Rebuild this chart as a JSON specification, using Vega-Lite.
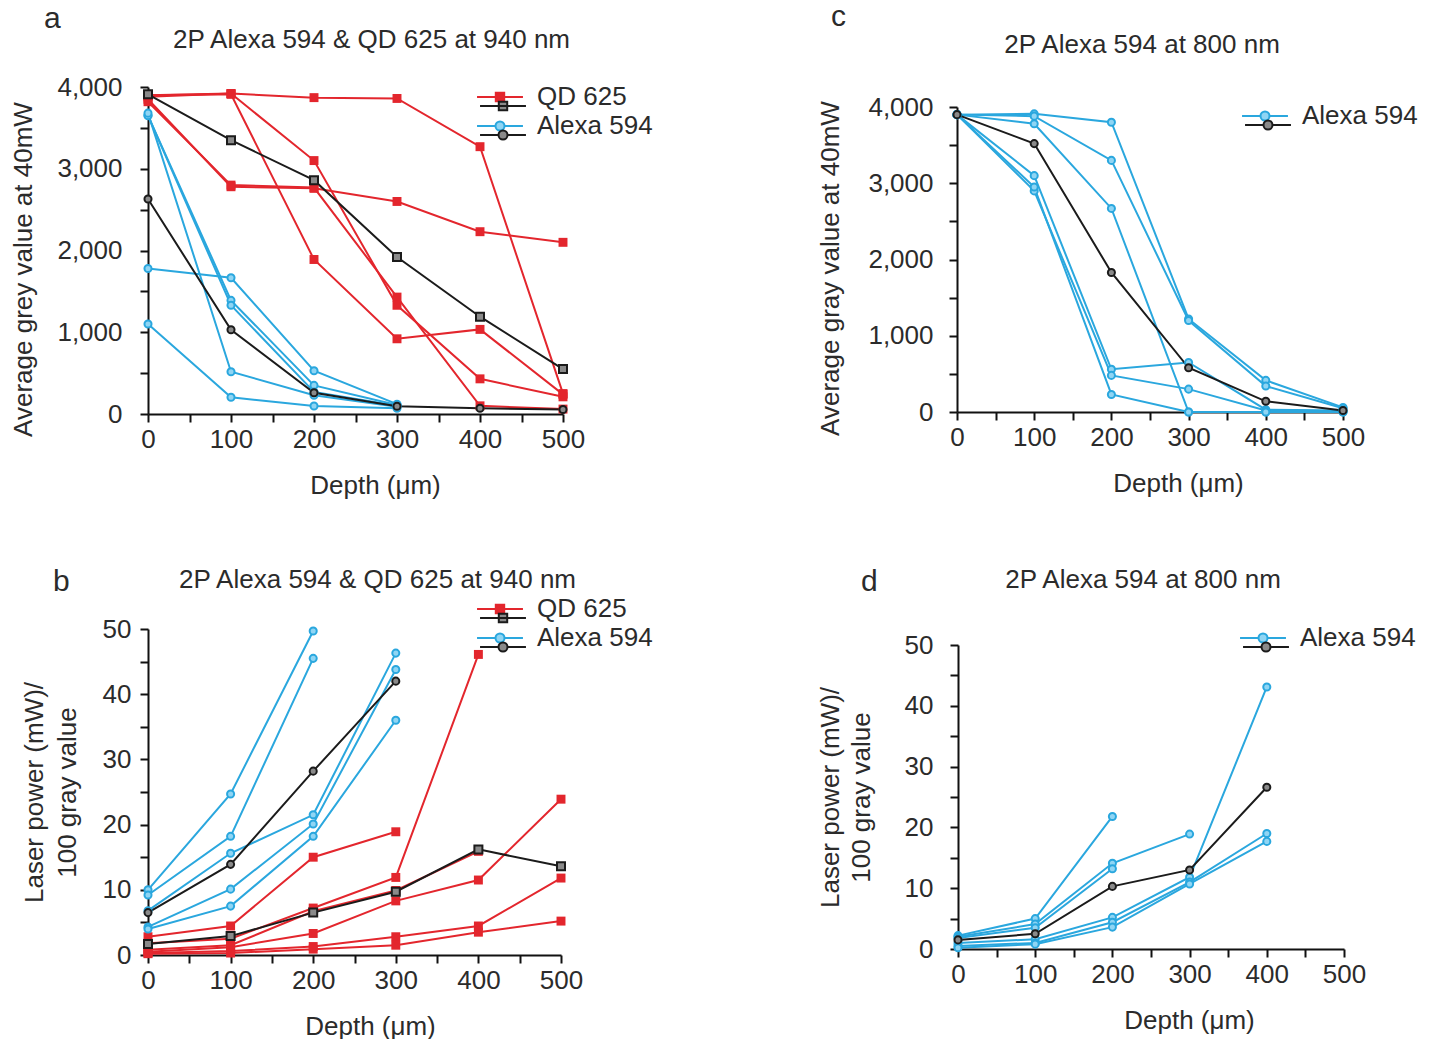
{
  "$schema": "https://vega.github.io/schema/vega-lite/v6.json",
  "padding": {"left": 10, "top": 2, "right": 0, "bottom": 0},
  "config": {
    "font": "Liberation Sans",
    "view": {"stroke": null},
    "axis": {"grid": false, "domainColor": "#111111", "domainWidth": 2, "tickColor": "#111111", "tickWidth": 2, "tickSize": 8, "labelFontSize": 26, "labelColor": "#2b2b2b", "titleFontSize": 26, "titleFontWeight": "normal", "titleColor": "#2b2b2b", "labelFlush": false, "labelOverlap": false},
    "axisX": {"labelPadding": 4, "titlePadding": 20},
    "axisY": {"labelPadding": 12, "titlePadding": 20},
    "title": {"fontSize": 26, "fontWeight": "normal", "color": "#2b2b2b"}
  },
  "datasets": {
    "panelA": [
      {"group": "QD 625", "series": "q1", "mean": 0, "depth": 0, "value": 3900},
      {"group": "QD 625", "series": "q1", "mean": 0, "depth": 100, "value": 3920},
      {"group": "QD 625", "series": "q1", "mean": 0, "depth": 200, "value": 3870},
      {"group": "QD 625", "series": "q1", "mean": 0, "depth": 300, "value": 3860},
      {"group": "QD 625", "series": "q1", "mean": 0, "depth": 400, "value": 3270},
      {"group": "QD 625", "series": "q1", "mean": 0, "depth": 500, "value": 250},
      {"group": "QD 625", "series": "q2", "mean": 0, "depth": 0, "value": 3850},
      {"group": "QD 625", "series": "q2", "mean": 0, "depth": 100, "value": 2780},
      {"group": "QD 625", "series": "q2", "mean": 0, "depth": 200, "value": 2760},
      {"group": "QD 625", "series": "q2", "mean": 0, "depth": 300, "value": 2600},
      {"group": "QD 625", "series": "q2", "mean": 0, "depth": 400, "value": 2230},
      {"group": "QD 625", "series": "q2", "mean": 0, "depth": 500, "value": 2100},
      {"group": "QD 625", "series": "q3", "mean": 0, "depth": 0, "value": 3820},
      {"group": "QD 625", "series": "q3", "mean": 0, "depth": 100, "value": 2800},
      {"group": "QD 625", "series": "q3", "mean": 0, "depth": 200, "value": 2770},
      {"group": "QD 625", "series": "q3", "mean": 0, "depth": 300, "value": 1430},
      {"group": "QD 625", "series": "q3", "mean": 0, "depth": 400, "value": 100},
      {"group": "QD 625", "series": "q3", "mean": 0, "depth": 500, "value": 60},
      {"group": "QD 625", "series": "q4", "mean": 0, "depth": 0, "value": 3880},
      {"group": "QD 625", "series": "q4", "mean": 0, "depth": 100, "value": 3920},
      {"group": "QD 625", "series": "q4", "mean": 0, "depth": 200, "value": 3100},
      {"group": "QD 625", "series": "q4", "mean": 0, "depth": 300, "value": 1330},
      {"group": "QD 625", "series": "q4", "mean": 0, "depth": 400, "value": 430},
      {"group": "QD 625", "series": "q4", "mean": 0, "depth": 500, "value": 210},
      {"group": "QD 625", "series": "q5", "mean": 0, "depth": 0, "value": 3900},
      {"group": "QD 625", "series": "q5", "mean": 0, "depth": 100, "value": 3910},
      {"group": "QD 625", "series": "q5", "mean": 0, "depth": 200, "value": 1890},
      {"group": "QD 625", "series": "q5", "mean": 0, "depth": 300, "value": 920},
      {"group": "QD 625", "series": "q5", "mean": 0, "depth": 400, "value": 1035},
      {"group": "QD 625", "series": "q5", "mean": 0, "depth": 500, "value": 240},
      {"group": "QD 625", "series": "qm", "mean": 1, "depth": 0, "value": 3910},
      {"group": "QD 625", "series": "qm", "mean": 1, "depth": 100, "value": 3350},
      {"group": "QD 625", "series": "qm", "mean": 1, "depth": 200, "value": 2860},
      {"group": "QD 625", "series": "qm", "mean": 1, "depth": 300, "value": 1920},
      {"group": "QD 625", "series": "qm", "mean": 1, "depth": 400, "value": 1190},
      {"group": "QD 625", "series": "qm", "mean": 1, "depth": 500, "value": 550},
      {"group": "Alexa 594", "series": "a1", "mean": 0, "depth": 0, "value": 3650},
      {"group": "Alexa 594", "series": "a1", "mean": 0, "depth": 100, "value": 1390},
      {"group": "Alexa 594", "series": "a1", "mean": 0, "depth": 200, "value": 350},
      {"group": "Alexa 594", "series": "a1", "mean": 0, "depth": 300, "value": 110},
      {"group": "Alexa 594", "series": "a2", "mean": 0, "depth": 0, "value": 3650},
      {"group": "Alexa 594", "series": "a2", "mean": 0, "depth": 100, "value": 1330},
      {"group": "Alexa 594", "series": "a2", "mean": 0, "depth": 200, "value": 270},
      {"group": "Alexa 594", "series": "a2", "mean": 0, "depth": 300, "value": 100},
      {"group": "Alexa 594", "series": "a3", "mean": 0, "depth": 0, "value": 3680},
      {"group": "Alexa 594", "series": "a3", "mean": 0, "depth": 100, "value": 517},
      {"group": "Alexa 594", "series": "a3", "mean": 0, "depth": 200, "value": 230},
      {"group": "Alexa 594", "series": "a3", "mean": 0, "depth": 300, "value": 90},
      {"group": "Alexa 594", "series": "a4", "mean": 0, "depth": 0, "value": 1780},
      {"group": "Alexa 594", "series": "a4", "mean": 0, "depth": 100, "value": 1666},
      {"group": "Alexa 594", "series": "a4", "mean": 0, "depth": 200, "value": 530},
      {"group": "Alexa 594", "series": "a4", "mean": 0, "depth": 300, "value": 120},
      {"group": "Alexa 594", "series": "a5", "mean": 0, "depth": 0, "value": 1100},
      {"group": "Alexa 594", "series": "a5", "mean": 0, "depth": 100, "value": 204},
      {"group": "Alexa 594", "series": "a5", "mean": 0, "depth": 200, "value": 98},
      {"group": "Alexa 594", "series": "a5", "mean": 0, "depth": 300, "value": 70},
      {"group": "Alexa 594", "series": "am", "mean": 1, "depth": 0, "value": 2630},
      {"group": "Alexa 594", "series": "am", "mean": 1, "depth": 100, "value": 1030},
      {"group": "Alexa 594", "series": "am", "mean": 1, "depth": 200, "value": 260},
      {"group": "Alexa 594", "series": "am", "mean": 1, "depth": 300, "value": 95},
      {"group": "Alexa 594", "series": "am", "mean": 1, "depth": 400, "value": 70},
      {"group": "Alexa 594", "series": "am", "mean": 1, "depth": 500, "value": 55}
    ],
    "panelB": [
      {"group": "QD 625", "series": "q1", "mean": 0, "depth": 0, "value": 2.8},
      {"group": "QD 625", "series": "q1", "mean": 0, "depth": 100, "value": 4.45},
      {"group": "QD 625", "series": "q1", "mean": 0, "depth": 200, "value": 15.0},
      {"group": "QD 625", "series": "q1", "mean": 0, "depth": 300, "value": 18.9},
      {"group": "QD 625", "series": "q2", "mean": 0, "depth": 0, "value": 1.8},
      {"group": "QD 625", "series": "q2", "mean": 0, "depth": 100, "value": 2.5},
      {"group": "QD 625", "series": "q2", "mean": 0, "depth": 200, "value": 7.2},
      {"group": "QD 625", "series": "q2", "mean": 0, "depth": 300, "value": 11.9},
      {"group": "QD 625", "series": "q2", "mean": 0, "depth": 400, "value": 46.1},
      {"group": "QD 625", "series": "q3", "mean": 0, "depth": 0, "value": 0.8},
      {"group": "QD 625", "series": "q3", "mean": 0, "depth": 100, "value": 1.5},
      {"group": "QD 625", "series": "q3", "mean": 0, "depth": 200, "value": 6.7},
      {"group": "QD 625", "series": "q3", "mean": 0, "depth": 300, "value": 9.9},
      {"group": "QD 625", "series": "q3", "mean": 0, "depth": 400, "value": 15.9},
      {"group": "QD 625", "series": "q4", "mean": 0, "depth": 0, "value": 0.5},
      {"group": "QD 625", "series": "q4", "mean": 0, "depth": 100, "value": 1.2},
      {"group": "QD 625", "series": "q4", "mean": 0, "depth": 200, "value": 3.3},
      {"group": "QD 625", "series": "q4", "mean": 0, "depth": 300, "value": 8.3},
      {"group": "QD 625", "series": "q4", "mean": 0, "depth": 400, "value": 11.5},
      {"group": "QD 625", "series": "q4", "mean": 0, "depth": 500, "value": 23.9},
      {"group": "QD 625", "series": "q5", "mean": 0, "depth": 0, "value": 0.3},
      {"group": "QD 625", "series": "q5", "mean": 0, "depth": 100, "value": 0.6},
      {"group": "QD 625", "series": "q5", "mean": 0, "depth": 200, "value": 1.3},
      {"group": "QD 625", "series": "q5", "mean": 0, "depth": 300, "value": 2.8},
      {"group": "QD 625", "series": "q5", "mean": 0, "depth": 400, "value": 4.45},
      {"group": "QD 625", "series": "q5", "mean": 0, "depth": 500, "value": 11.8},
      {"group": "QD 625", "series": "q6", "mean": 0, "depth": 0, "value": 0.2},
      {"group": "QD 625", "series": "q6", "mean": 0, "depth": 100, "value": 0.3},
      {"group": "QD 625", "series": "q6", "mean": 0, "depth": 200, "value": 0.9},
      {"group": "QD 625", "series": "q6", "mean": 0, "depth": 300, "value": 1.5},
      {"group": "QD 625", "series": "q6", "mean": 0, "depth": 400, "value": 3.5},
      {"group": "QD 625", "series": "q6", "mean": 0, "depth": 500, "value": 5.2},
      {"group": "QD 625", "series": "qm", "mean": 1, "depth": 0, "value": 1.7},
      {"group": "QD 625", "series": "qm", "mean": 1, "depth": 100, "value": 2.9},
      {"group": "QD 625", "series": "qm", "mean": 1, "depth": 200, "value": 6.5},
      {"group": "QD 625", "series": "qm", "mean": 1, "depth": 300, "value": 9.7},
      {"group": "QD 625", "series": "qm", "mean": 1, "depth": 400, "value": 16.2},
      {"group": "QD 625", "series": "qm", "mean": 1, "depth": 500, "value": 13.6},
      {"group": "Alexa 594", "series": "a1", "mean": 0, "depth": 0, "value": 10.0},
      {"group": "Alexa 594", "series": "a1", "mean": 0, "depth": 100, "value": 24.7},
      {"group": "Alexa 594", "series": "a1", "mean": 0, "depth": 200, "value": 49.7},
      {"group": "Alexa 594", "series": "a2", "mean": 0, "depth": 0, "value": 9.2},
      {"group": "Alexa 594", "series": "a2", "mean": 0, "depth": 100, "value": 18.2},
      {"group": "Alexa 594", "series": "a2", "mean": 0, "depth": 200, "value": 45.5},
      {"group": "Alexa 594", "series": "a3", "mean": 0, "depth": 0, "value": 6.8},
      {"group": "Alexa 594", "series": "a3", "mean": 0, "depth": 100, "value": 15.6},
      {"group": "Alexa 594", "series": "a3", "mean": 0, "depth": 200, "value": 21.5},
      {"group": "Alexa 594", "series": "a3", "mean": 0, "depth": 300, "value": 46.3},
      {"group": "Alexa 594", "series": "a4", "mean": 0, "depth": 0, "value": 4.3},
      {"group": "Alexa 594", "series": "a4", "mean": 0, "depth": 100, "value": 10.1},
      {"group": "Alexa 594", "series": "a4", "mean": 0, "depth": 200, "value": 20.1},
      {"group": "Alexa 594", "series": "a4", "mean": 0, "depth": 300, "value": 43.8},
      {"group": "Alexa 594", "series": "a5", "mean": 0, "depth": 0, "value": 4.0},
      {"group": "Alexa 594", "series": "a5", "mean": 0, "depth": 100, "value": 7.5},
      {"group": "Alexa 594", "series": "a5", "mean": 0, "depth": 200, "value": 18.2},
      {"group": "Alexa 594", "series": "a5", "mean": 0, "depth": 300, "value": 36.0},
      {"group": "Alexa 594", "series": "am", "mean": 1, "depth": 0, "value": 6.5},
      {"group": "Alexa 594", "series": "am", "mean": 1, "depth": 100, "value": 13.9},
      {"group": "Alexa 594", "series": "am", "mean": 1, "depth": 200, "value": 28.2},
      {"group": "Alexa 594", "series": "am", "mean": 1, "depth": 300, "value": 42.0}
    ],
    "panelC": [
      {"group": "Alexa 594", "series": "c1", "mean": 0, "depth": 0, "value": 3900},
      {"group": "Alexa 594", "series": "c1", "mean": 0, "depth": 100, "value": 3910},
      {"group": "Alexa 594", "series": "c1", "mean": 0, "depth": 200, "value": 3800},
      {"group": "Alexa 594", "series": "c1", "mean": 0, "depth": 300, "value": 1220},
      {"group": "Alexa 594", "series": "c1", "mean": 0, "depth": 400, "value": 415},
      {"group": "Alexa 594", "series": "c1", "mean": 0, "depth": 500, "value": 60},
      {"group": "Alexa 594", "series": "c2", "mean": 0, "depth": 0, "value": 3900},
      {"group": "Alexa 594", "series": "c2", "mean": 0, "depth": 100, "value": 3880},
      {"group": "Alexa 594", "series": "c2", "mean": 0, "depth": 200, "value": 3300},
      {"group": "Alexa 594", "series": "c2", "mean": 0, "depth": 300, "value": 1200},
      {"group": "Alexa 594", "series": "c2", "mean": 0, "depth": 400, "value": 340},
      {"group": "Alexa 594", "series": "c2", "mean": 0, "depth": 500, "value": 50},
      {"group": "Alexa 594", "series": "c3", "mean": 0, "depth": 0, "value": 3900},
      {"group": "Alexa 594", "series": "c3", "mean": 0, "depth": 100, "value": 3780},
      {"group": "Alexa 594", "series": "c3", "mean": 0, "depth": 200, "value": 2670},
      {"group": "Alexa 594", "series": "c3", "mean": 0, "depth": 300, "value": 0},
      {"group": "Alexa 594", "series": "c3", "mean": 0, "depth": 400, "value": 0},
      {"group": "Alexa 594", "series": "c3", "mean": 0, "depth": 500, "value": 0},
      {"group": "Alexa 594", "series": "c4", "mean": 0, "depth": 0, "value": 3900},
      {"group": "Alexa 594", "series": "c4", "mean": 0, "depth": 100, "value": 3100},
      {"group": "Alexa 594", "series": "c4", "mean": 0, "depth": 200, "value": 560},
      {"group": "Alexa 594", "series": "c4", "mean": 0, "depth": 300, "value": 650},
      {"group": "Alexa 594", "series": "c4", "mean": 0, "depth": 400, "value": 30},
      {"group": "Alexa 594", "series": "c4", "mean": 0, "depth": 500, "value": 20},
      {"group": "Alexa 594", "series": "c5", "mean": 0, "depth": 0, "value": 3900},
      {"group": "Alexa 594", "series": "c5", "mean": 0, "depth": 100, "value": 2900},
      {"group": "Alexa 594", "series": "c5", "mean": 0, "depth": 200, "value": 480},
      {"group": "Alexa 594", "series": "c5", "mean": 0, "depth": 300, "value": 300},
      {"group": "Alexa 594", "series": "c5", "mean": 0, "depth": 400, "value": 20},
      {"group": "Alexa 594", "series": "c5", "mean": 0, "depth": 500, "value": 10},
      {"group": "Alexa 594", "series": "c6", "mean": 0, "depth": 0, "value": 3900},
      {"group": "Alexa 594", "series": "c6", "mean": 0, "depth": 100, "value": 2950},
      {"group": "Alexa 594", "series": "c6", "mean": 0, "depth": 200, "value": 230},
      {"group": "Alexa 594", "series": "c6", "mean": 0, "depth": 300, "value": 0},
      {"group": "Alexa 594", "series": "c6", "mean": 0, "depth": 400, "value": 0},
      {"group": "Alexa 594", "series": "c6", "mean": 0, "depth": 500, "value": 0},
      {"group": "Alexa 594", "series": "cm", "mean": 1, "depth": 0, "value": 3900},
      {"group": "Alexa 594", "series": "cm", "mean": 1, "depth": 100, "value": 3520},
      {"group": "Alexa 594", "series": "cm", "mean": 1, "depth": 200, "value": 1830},
      {"group": "Alexa 594", "series": "cm", "mean": 1, "depth": 300, "value": 580},
      {"group": "Alexa 594", "series": "cm", "mean": 1, "depth": 400, "value": 140},
      {"group": "Alexa 594", "series": "cm", "mean": 1, "depth": 500, "value": 20}
    ],
    "panelD": [
      {"group": "Alexa 594", "series": "d1", "mean": 0, "depth": 0, "value": 2.2},
      {"group": "Alexa 594", "series": "d1", "mean": 0, "depth": 100, "value": 5.0},
      {"group": "Alexa 594", "series": "d1", "mean": 0, "depth": 200, "value": 21.8},
      {"group": "Alexa 594", "series": "d2", "mean": 0, "depth": 0, "value": 2.0},
      {"group": "Alexa 594", "series": "d2", "mean": 0, "depth": 100, "value": 4.1},
      {"group": "Alexa 594", "series": "d2", "mean": 0, "depth": 200, "value": 14.1},
      {"group": "Alexa 594", "series": "d2", "mean": 0, "depth": 300, "value": 18.9},
      {"group": "Alexa 594", "series": "d3", "mean": 0, "depth": 0, "value": 1.8},
      {"group": "Alexa 594", "series": "d3", "mean": 0, "depth": 100, "value": 3.5},
      {"group": "Alexa 594", "series": "d3", "mean": 0, "depth": 200, "value": 13.2},
      {"group": "Alexa 594", "series": "d4", "mean": 0, "depth": 0, "value": 1.0},
      {"group": "Alexa 594", "series": "d4", "mean": 0, "depth": 100, "value": 1.6},
      {"group": "Alexa 594", "series": "d4", "mean": 0, "depth": 200, "value": 5.2},
      {"group": "Alexa 594", "series": "d4", "mean": 0, "depth": 300, "value": 11.8},
      {"group": "Alexa 594", "series": "d4", "mean": 0, "depth": 400, "value": 43.1},
      {"group": "Alexa 594", "series": "d5", "mean": 0, "depth": 0, "value": 0.5},
      {"group": "Alexa 594", "series": "d5", "mean": 0, "depth": 100, "value": 1.0},
      {"group": "Alexa 594", "series": "d5", "mean": 0, "depth": 200, "value": 4.4},
      {"group": "Alexa 594", "series": "d5", "mean": 0, "depth": 300, "value": 11.0},
      {"group": "Alexa 594", "series": "d5", "mean": 0, "depth": 400, "value": 19.0},
      {"group": "Alexa 594", "series": "d6", "mean": 0, "depth": 0, "value": 0.2},
      {"group": "Alexa 594", "series": "d6", "mean": 0, "depth": 100, "value": 0.8},
      {"group": "Alexa 594", "series": "d6", "mean": 0, "depth": 200, "value": 3.6},
      {"group": "Alexa 594", "series": "d6", "mean": 0, "depth": 300, "value": 10.7},
      {"group": "Alexa 594", "series": "d6", "mean": 0, "depth": 400, "value": 17.7},
      {"group": "Alexa 594", "series": "dm", "mean": 1, "depth": 0, "value": 1.5},
      {"group": "Alexa 594", "series": "dm", "mean": 1, "depth": 100, "value": 2.5},
      {"group": "Alexa 594", "series": "dm", "mean": 1, "depth": 200, "value": 10.3},
      {"group": "Alexa 594", "series": "dm", "mean": 1, "depth": 300, "value": 13.0},
      {"group": "Alexa 594", "series": "dm", "mean": 1, "depth": 400, "value": 26.6}
    ]
  },
  "columns": 2,
  "align": "none",
  "spacing": {"row": 69, "column": 164},
  "concat": [
    {
      "title": {"text": "a", "anchor": "start", "fontSize": 30, "dx": 33, "offset": -7},
      "vconcat": [
        {
          "width": 415, "height": 327,
          "title": {"text": "2P Alexa 594 & QD 625 at 940 nm", "dx": 16, "offset": 21},
          "data": {"name": "panelA"},
          "encoding": {
            "x": {"field": "depth", "type": "quantitative", "scale": {"domain": [0, 500], "nice": false}, "axis": {"title": "Depth (μm)", "values": [0, 50, 100, 150, 200, 250, 300, 350, 400, 450, 500], "labelExpr": "datum.value % 100 === 0 ? datum.label : ''", "titleX": 227}},
            "y": {"field": "value", "type": "quantitative", "scale": {"domain": [0, 4000], "nice": false}, "axis": {"title": "Average grey value at 40mW", "values": [0, 500, 1000, 1500, 2000, 2500, 3000, 3500, 4000], "labelExpr": "datum.value % 1000 === 0 ? format(datum.value, ',') : ''", "titleY": 182, "labelPadding": 18, "titlePadding": 20}}
          },
          "resolve": {"scale": {"shape": "independent", "fill": "independent", "stroke": "independent"}, "legend": {"shape": "independent", "fill": "independent", "stroke": "independent"}},
          "layer": [
            {"transform": [{"filter": "datum.mean === 0"}], "mark": {"type": "line", "strokeWidth": 2}, "encoding": {"color": {"field": "group", "type": "nominal", "scale": {"domain": ["QD 625", "Alexa 594"], "range": ["#e3262d", "#2aa7de"]}, "legend": null}, "detail": {"field": "series"}}},
            {"transform": [{"filter": "datum.mean === 1"}], "mark": {"type": "line", "strokeWidth": 2, "color": "#1b1b1b"}, "encoding": {"detail": {"field": "series"}}},
            {"transform": [{"filter": "datum.mean === 0 && datum.group === 'QD 625'"}], "mark": {"type": "point", "shape": "square", "filled": true, "size": 80, "color": "#e3262d", "opacity": 1}},
            {"transform": [{"filter": "datum.mean === 0 && datum.group === 'Alexa 594'"}], "mark": {"type": "point", "shape": "circle", "filled": true, "size": 50, "fill": "#8fd5f4", "stroke": "#2aa7de", "strokeWidth": 2, "opacity": 1}},
            {"transform": [{"filter": "datum.mean === 1 && datum.group === 'QD 625'"}], "mark": {"type": "point", "shape": "square", "filled": true, "size": 64, "fill": "#8a8a8a", "stroke": "#1b1b1b", "strokeWidth": 2, "opacity": 1}},
            {"transform": [{"filter": "datum.mean === 1 && datum.group === 'Alexa 594'"}], "mark": {"type": "point", "shape": "circle", "filled": true, "size": 50, "fill": "#8a8a8a", "stroke": "#1b1b1b", "strokeWidth": 2, "opacity": 1}},
            {"transform": [{"filter": "false"}], "mark": {"type": "point", "filled": true, "opacity": 1, "strokeWidth": 2, "size": 900},
              "encoding": {
                "shape": {"field": "group", "type": "nominal", "scale": {"domain": ["QD 625", "Alexa 594"], "range": ["M-1.53,0H1.53M-0.28,-0.28H0.28V0.28H-0.28Z", "M-1.53,0H-0.3M0.3,0H1.53M-0.3,0A0.3,0.3,0,1,1,0.3,0A0.3,0.3,0,1,1,-0.3,0Z"]}, "legend": {"orient": "none", "legendX": 336, "legendY": -6, "title": null, "symbolSize": 900, "symbolStrokeWidth": 2, "labelOffset": 21, "padding": 0, "rowPadding": 0, "labelFontSize": 26, "labelColor": "#2b2b2b", "symbolOpacity": 1}},
                "fill": {"field": "group", "type": "nominal", "scale": {"domain": ["QD 625", "Alexa 594"], "range": ["#e3262d", "#8fd5f4"]}, "legend": {"orient": "none", "legendX": 336, "legendY": -6, "title": null, "symbolSize": 900, "symbolStrokeWidth": 2, "labelOffset": 21, "padding": 0, "rowPadding": 0, "labelFontSize": 26, "labelColor": "#2b2b2b", "symbolOpacity": 1}},
                "stroke": {"field": "group", "type": "nominal", "scale": {"domain": ["QD 625", "Alexa 594"], "range": ["#e3262d", "#2aa7de"]}, "legend": {"orient": "none", "legendX": 336, "legendY": -6, "title": null, "symbolSize": 900, "symbolStrokeWidth": 2, "labelOffset": 21, "padding": 0, "rowPadding": 0, "labelFontSize": 26, "labelColor": "#2b2b2b", "symbolOpacity": 1}}
              }},
            {"transform": [{"filter": "false"}], "mark": {"type": "point", "filled": true, "opacity": 1, "strokeWidth": 2, "size": 900},
              "encoding": {
                "shape": {"field": "group", "type": "nominal", "scale": {"domain": ["QD 625", "Alexa 594"], "range": ["M-1.53,0H1.53M-0.28,-0.28H0.28V0.28H-0.28Z", "M-1.53,0H-0.3M0.3,0H1.53M-0.3,0A0.3,0.3,0,1,1,0.3,0A0.3,0.3,0,1,1,-0.3,0Z"]}, "legend": {"orient": "none", "legendX": 339, "legendY": 3, "title": null, "symbolSize": 900, "symbolStrokeWidth": 2, "labelExpr": "''", "padding": 0, "rowPadding": 0, "labelFontSize": 26, "symbolOpacity": 1}},
                "fill": {"field": "group", "type": "nominal", "scale": {"domain": ["QD 625", "Alexa 594"], "range": ["#8a8a8a", "#8a8a8a"]}, "legend": {"orient": "none", "legendX": 339, "legendY": 3, "title": null, "symbolSize": 900, "symbolStrokeWidth": 2, "labelExpr": "''", "padding": 0, "rowPadding": 0, "labelFontSize": 26, "symbolOpacity": 1}},
                "stroke": {"field": "group", "type": "nominal", "scale": {"domain": ["QD 625", "Alexa 594"], "range": ["#1b1b1b", "#1b1b1b"]}, "legend": {"orient": "none", "legendX": 339, "legendY": 3, "title": null, "symbolSize": 900, "symbolStrokeWidth": 2, "labelExpr": "''", "padding": 0, "rowPadding": 0, "labelFontSize": 26, "symbolOpacity": 1}}
              }}
          ]
        }
      ]
    },
    {
      "title": {"text": "c", "anchor": "start", "fontSize": 30, "dx": 13, "offset": 0},
      "vconcat": [
        {
          "width": 386, "height": 325,
          "title": {"text": "2P Alexa 594 at 800 nm", "dx": -8, "offset": 29},
          "data": {"name": "panelC"},
          "encoding": {
            "x": {"field": "depth", "type": "quantitative", "scale": {"domain": [0, 500], "nice": false}, "axis": {"title": "Depth (μm)", "values": [0, 50, 100, 150, 200, 250, 300, 350, 400, 450, 500], "labelExpr": "datum.value % 100 === 0 ? datum.label : ''", "titleX": 221}},
            "y": {"field": "value", "type": "quantitative", "scale": {"domain": [0, 4000], "nice": false, "range": [325, 20]}, "axis": {"title": "Average gray value at 40mW", "values": [0, 500, 1000, 1500, 2000, 2500, 3000, 3500, 4000], "labelExpr": "datum.value % 1000 === 0 ? format(datum.value, ',') : ''", "titleY": 181, "labelPadding": 16, "titlePadding": 24}}
          },
          "resolve": {"scale": {"shape": "independent", "fill": "independent", "stroke": "independent"}, "legend": {"shape": "independent", "fill": "independent", "stroke": "independent"}},
          "layer": [
            {"transform": [{"filter": "datum.mean === 0"}], "mark": {"type": "line", "strokeWidth": 2, "color": "#2aa7de"}, "encoding": {"detail": {"field": "series"}}},
            {"transform": [{"filter": "datum.mean === 1"}], "mark": {"type": "line", "strokeWidth": 2, "color": "#1b1b1b"}, "encoding": {"detail": {"field": "series"}}},
            {"transform": [{"filter": "datum.mean === 0"}], "mark": {"type": "point", "shape": "circle", "filled": true, "size": 50, "fill": "#8fd5f4", "stroke": "#2aa7de", "strokeWidth": 2, "opacity": 1}},
            {"transform": [{"filter": "datum.mean === 1"}], "mark": {"type": "point", "shape": "circle", "filled": true, "size": 50, "fill": "#8a8a8a", "stroke": "#1b1b1b", "strokeWidth": 2, "opacity": 1}},
            {"transform": [{"filter": "false"}], "mark": {"type": "point", "filled": true, "opacity": 1, "strokeWidth": 2, "size": 900},
              "encoding": {
                "shape": {"field": "group", "type": "nominal", "scale": {"domain": ["Alexa 594"], "range": ["M-1.53,0H-0.3M0.3,0H1.53M-0.3,0A0.3,0.3,0,1,1,0.3,0A0.3,0.3,0,1,1,-0.3,0Z"]}, "legend": {"orient": "none", "legendX": 292, "legendY": 13, "title": null, "symbolSize": 900, "symbolStrokeWidth": 2, "labelOffset": 21, "padding": 0, "rowPadding": 0, "labelFontSize": 26, "labelColor": "#2b2b2b", "symbolOpacity": 1}},
                "fill": {"field": "group", "type": "nominal", "scale": {"domain": ["Alexa 594"], "range": ["#8fd5f4"]}, "legend": {"orient": "none", "legendX": 292, "legendY": 13, "title": null, "symbolSize": 900, "symbolStrokeWidth": 2, "labelOffset": 21, "padding": 0, "rowPadding": 0, "labelFontSize": 26, "labelColor": "#2b2b2b", "symbolOpacity": 1}},
                "stroke": {"field": "group", "type": "nominal", "scale": {"domain": ["Alexa 594"], "range": ["#2aa7de"]}, "legend": {"orient": "none", "legendX": 292, "legendY": 13, "title": null, "symbolSize": 900, "symbolStrokeWidth": 2, "labelOffset": 21, "padding": 0, "rowPadding": 0, "labelFontSize": 26, "labelColor": "#2b2b2b", "symbolOpacity": 1}}
              }},
            {"transform": [{"filter": "false"}], "mark": {"type": "point", "filled": true, "opacity": 1, "strokeWidth": 2, "size": 900},
              "encoding": {
                "shape": {"field": "group", "type": "nominal", "scale": {"domain": ["Alexa 594"], "range": ["M-1.53,0H-0.3M0.3,0H1.53M-0.3,0A0.3,0.3,0,1,1,0.3,0A0.3,0.3,0,1,1,-0.3,0Z"]}, "legend": {"orient": "none", "legendX": 295, "legendY": 22, "title": null, "symbolSize": 900, "symbolStrokeWidth": 2, "labelExpr": "''", "padding": 0, "rowPadding": 0, "labelFontSize": 26, "symbolOpacity": 1}},
                "fill": {"field": "group", "type": "nominal", "scale": {"domain": ["Alexa 594"], "range": ["#8a8a8a"]}, "legend": {"orient": "none", "legendX": 295, "legendY": 22, "title": null, "symbolSize": 900, "symbolStrokeWidth": 2, "labelExpr": "''", "padding": 0, "rowPadding": 0, "labelFontSize": 26, "symbolOpacity": 1}},
                "stroke": {"field": "group", "type": "nominal", "scale": {"domain": ["Alexa 594"], "range": ["#1b1b1b"]}, "legend": {"orient": "none", "legendX": 295, "legendY": 22, "title": null, "symbolSize": 900, "symbolStrokeWidth": 2, "labelExpr": "''", "padding": 0, "rowPadding": 0, "labelFontSize": 26, "symbolOpacity": 1}}
              }}
          ]
        }
      ]
    },
    {
      "title": {"text": "b", "anchor": "start", "fontSize": 30, "dx": 32, "offset": -30},
      "vconcat": [
        {
          "width": 413, "height": 326,
          "title": {"text": "2P Alexa 594 & QD 625 at 940 nm", "dx": 23, "offset": 0},
          "data": {"name": "panelB"},
          "encoding": {
            "x": {"field": "depth", "type": "quantitative", "scale": {"domain": [0, 500], "nice": false}, "axis": {"title": "Depth (μm)", "values": [0, 50, 100, 150, 200, 250, 300, 350, 400, 450, 500], "labelExpr": "datum.value % 100 === 0 ? datum.label : ''", "titleX": 222}},
            "y": {"field": "value", "type": "quantitative", "scale": {"domain": [0, 50], "nice": false}, "axis": {"title": ["Laser power (mW)/", "100 gray value"], "titleLineHeight": 33, "values": [0, 5, 10, 15, 20, 25, 30, 35, 40, 45, 50], "labelExpr": "datum.value % 10 === 0 ? datum.label : ''", "labelPadding": 9, "titlePadding": 22}}
          },
          "resolve": {"scale": {"shape": "independent", "fill": "independent", "stroke": "independent"}, "legend": {"shape": "independent", "fill": "independent", "stroke": "independent"}},
          "layer": [
            {"transform": [{"filter": "datum.mean === 0"}], "mark": {"type": "line", "strokeWidth": 2}, "encoding": {"color": {"field": "group", "type": "nominal", "scale": {"domain": ["QD 625", "Alexa 594"], "range": ["#e3262d", "#2aa7de"]}, "legend": null}, "detail": {"field": "series"}}},
            {"transform": [{"filter": "datum.mean === 1"}], "mark": {"type": "line", "strokeWidth": 2, "color": "#1b1b1b"}, "encoding": {"detail": {"field": "series"}}},
            {"transform": [{"filter": "datum.mean === 0 && datum.group === 'QD 625'"}], "mark": {"type": "point", "shape": "square", "filled": true, "size": 80, "color": "#e3262d", "opacity": 1}},
            {"transform": [{"filter": "datum.mean === 0 && datum.group === 'Alexa 594'"}], "mark": {"type": "point", "shape": "circle", "filled": true, "size": 50, "fill": "#8fd5f4", "stroke": "#2aa7de", "strokeWidth": 2, "opacity": 1}},
            {"transform": [{"filter": "datum.mean === 1 && datum.group === 'QD 625'"}], "mark": {"type": "point", "shape": "square", "filled": true, "size": 64, "fill": "#8a8a8a", "stroke": "#1b1b1b", "strokeWidth": 2, "opacity": 1}},
            {"transform": [{"filter": "datum.mean === 1 && datum.group === 'Alexa 594'"}], "mark": {"type": "point", "shape": "circle", "filled": true, "size": 50, "fill": "#8a8a8a", "stroke": "#1b1b1b", "strokeWidth": 2, "opacity": 1}},
            {"transform": [{"filter": "false"}], "mark": {"type": "point", "filled": true, "opacity": 1, "strokeWidth": 2, "size": 900},
              "encoding": {
                "shape": {"field": "group", "type": "nominal", "scale": {"domain": ["QD 625", "Alexa 594"], "range": ["M-1.53,0H1.53M-0.28,-0.28H0.28V0.28H-0.28Z", "M-1.53,0H-0.3M0.3,0H1.53M-0.3,0A0.3,0.3,0,1,1,0.3,0A0.3,0.3,0,1,1,-0.3,0Z"]}, "legend": {"orient": "none", "legendX": 336, "legendY": -36, "title": null, "symbolSize": 900, "symbolStrokeWidth": 2, "labelOffset": 21, "padding": 0, "rowPadding": 0, "labelFontSize": 26, "labelColor": "#2b2b2b", "symbolOpacity": 1}},
                "fill": {"field": "group", "type": "nominal", "scale": {"domain": ["QD 625", "Alexa 594"], "range": ["#e3262d", "#8fd5f4"]}, "legend": {"orient": "none", "legendX": 336, "legendY": -36, "title": null, "symbolSize": 900, "symbolStrokeWidth": 2, "labelOffset": 21, "padding": 0, "rowPadding": 0, "labelFontSize": 26, "labelColor": "#2b2b2b", "symbolOpacity": 1}},
                "stroke": {"field": "group", "type": "nominal", "scale": {"domain": ["QD 625", "Alexa 594"], "range": ["#e3262d", "#2aa7de"]}, "legend": {"orient": "none", "legendX": 336, "legendY": -36, "title": null, "symbolSize": 900, "symbolStrokeWidth": 2, "labelOffset": 21, "padding": 0, "rowPadding": 0, "labelFontSize": 26, "labelColor": "#2b2b2b", "symbolOpacity": 1}}
              }},
            {"transform": [{"filter": "false"}], "mark": {"type": "point", "filled": true, "opacity": 1, "strokeWidth": 2, "size": 900},
              "encoding": {
                "shape": {"field": "group", "type": "nominal", "scale": {"domain": ["QD 625", "Alexa 594"], "range": ["M-1.53,0H1.53M-0.28,-0.28H0.28V0.28H-0.28Z", "M-1.53,0H-0.3M0.3,0H1.53M-0.3,0A0.3,0.3,0,1,1,0.3,0A0.3,0.3,0,1,1,-0.3,0Z"]}, "legend": {"orient": "none", "legendX": 339, "legendY": -27, "title": null, "symbolSize": 900, "symbolStrokeWidth": 2, "labelExpr": "''", "padding": 0, "rowPadding": 0, "labelFontSize": 26, "symbolOpacity": 1}},
                "fill": {"field": "group", "type": "nominal", "scale": {"domain": ["QD 625", "Alexa 594"], "range": ["#8a8a8a", "#8a8a8a"]}, "legend": {"orient": "none", "legendX": 339, "legendY": -27, "title": null, "symbolSize": 900, "symbolStrokeWidth": 2, "labelExpr": "''", "padding": 0, "rowPadding": 0, "labelFontSize": 26, "symbolOpacity": 1}},
                "stroke": {"field": "group", "type": "nominal", "scale": {"domain": ["QD 625", "Alexa 594"], "range": ["#1b1b1b", "#1b1b1b"]}, "legend": {"orient": "none", "legendX": 339, "legendY": -27, "title": null, "symbolSize": 900, "symbolStrokeWidth": 2, "labelExpr": "''", "padding": 0, "rowPadding": 0, "labelFontSize": 26, "symbolOpacity": 1}}
              }}
          ]
        }
      ]
    },
    {
      "title": {"text": "d", "anchor": "start", "fontSize": 30, "dx": 44, "offset": -30},
      "vconcat": [
        {
          "width": 386, "height": 304,
          "title": {"text": "2P Alexa 594 at 800 nm", "dx": -8, "offset": 29},
          "data": {"name": "panelD"},
          "encoding": {
            "x": {"field": "depth", "type": "quantitative", "scale": {"domain": [0, 500], "nice": false}, "axis": {"title": "Depth (μm)", "values": [0, 50, 100, 150, 200, 250, 300, 350, 400, 450, 500], "labelExpr": "datum.value % 100 === 0 ? datum.label : ''", "titleX": 231}},
            "y": {"field": "value", "type": "quantitative", "scale": {"domain": [0, 50], "nice": false}, "axis": {"title": ["Laser power (mW)/", "100 gray value"], "titleLineHeight": 31, "values": [0, 5, 10, 15, 20, 25, 30, 35, 40, 45, 50], "labelExpr": "datum.value % 10 === 0 ? datum.label : ''", "labelPadding": 17, "titlePadding": 30}}
          },
          "resolve": {"scale": {"shape": "independent", "fill": "independent", "stroke": "independent"}, "legend": {"shape": "independent", "fill": "independent", "stroke": "independent"}},
          "layer": [
            {"transform": [{"filter": "datum.mean === 0"}], "mark": {"type": "line", "strokeWidth": 2, "color": "#2aa7de"}, "encoding": {"detail": {"field": "series"}}},
            {"transform": [{"filter": "datum.mean === 1"}], "mark": {"type": "line", "strokeWidth": 2, "color": "#1b1b1b"}, "encoding": {"detail": {"field": "series"}}},
            {"transform": [{"filter": "datum.mean === 0"}], "mark": {"type": "point", "shape": "circle", "filled": true, "size": 50, "fill": "#8fd5f4", "stroke": "#2aa7de", "strokeWidth": 2, "opacity": 1}},
            {"transform": [{"filter": "datum.mean === 1"}], "mark": {"type": "point", "shape": "circle", "filled": true, "size": 50, "fill": "#8a8a8a", "stroke": "#1b1b1b", "strokeWidth": 2, "opacity": 1}},
            {"transform": [{"filter": "false"}], "mark": {"type": "point", "filled": true, "opacity": 1, "strokeWidth": 2, "size": 900},
              "encoding": {
                "shape": {"field": "group", "type": "nominal", "scale": {"domain": ["Alexa 594"], "range": ["M-1.53,0H-0.3M0.3,0H1.53M-0.3,0A0.3,0.3,0,1,1,0.3,0A0.3,0.3,0,1,1,-0.3,0Z"]}, "legend": {"orient": "none", "legendX": 289, "legendY": -23, "title": null, "symbolSize": 900, "symbolStrokeWidth": 2, "labelOffset": 21, "padding": 0, "rowPadding": 0, "labelFontSize": 26, "labelColor": "#2b2b2b", "symbolOpacity": 1}},
                "fill": {"field": "group", "type": "nominal", "scale": {"domain": ["Alexa 594"], "range": ["#8fd5f4"]}, "legend": {"orient": "none", "legendX": 289, "legendY": -23, "title": null, "symbolSize": 900, "symbolStrokeWidth": 2, "labelOffset": 21, "padding": 0, "rowPadding": 0, "labelFontSize": 26, "labelColor": "#2b2b2b", "symbolOpacity": 1}},
                "stroke": {"field": "group", "type": "nominal", "scale": {"domain": ["Alexa 594"], "range": ["#2aa7de"]}, "legend": {"orient": "none", "legendX": 289, "legendY": -23, "title": null, "symbolSize": 900, "symbolStrokeWidth": 2, "labelOffset": 21, "padding": 0, "rowPadding": 0, "labelFontSize": 26, "labelColor": "#2b2b2b", "symbolOpacity": 1}}
              }},
            {"transform": [{"filter": "false"}], "mark": {"type": "point", "filled": true, "opacity": 1, "strokeWidth": 2, "size": 900},
              "encoding": {
                "shape": {"field": "group", "type": "nominal", "scale": {"domain": ["Alexa 594"], "range": ["M-1.53,0H-0.3M0.3,0H1.53M-0.3,0A0.3,0.3,0,1,1,0.3,0A0.3,0.3,0,1,1,-0.3,0Z"]}, "legend": {"orient": "none", "legendX": 292, "legendY": -14, "title": null, "symbolSize": 900, "symbolStrokeWidth": 2, "labelExpr": "''", "padding": 0, "rowPadding": 0, "labelFontSize": 26, "symbolOpacity": 1}},
                "fill": {"field": "group", "type": "nominal", "scale": {"domain": ["Alexa 594"], "range": ["#8a8a8a"]}, "legend": {"orient": "none", "legendX": 292, "legendY": -14, "title": null, "symbolSize": 900, "symbolStrokeWidth": 2, "labelExpr": "''", "padding": 0, "rowPadding": 0, "labelFontSize": 26, "symbolOpacity": 1}},
                "stroke": {"field": "group", "type": "nominal", "scale": {"domain": ["Alexa 594"], "range": ["#1b1b1b"]}, "legend": {"orient": "none", "legendX": 292, "legendY": -14, "title": null, "symbolSize": 900, "symbolStrokeWidth": 2, "labelExpr": "''", "padding": 0, "rowPadding": 0, "labelFontSize": 26, "symbolOpacity": 1}}
              }}
          ]
        }
      ]
    }
  ]
}
